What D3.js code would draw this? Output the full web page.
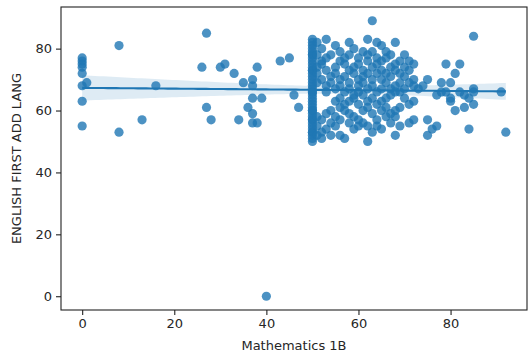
<!DOCTYPE html>
<html>
<head>
<meta charset="utf-8">
<script src="https://cdn.jsdelivr.net/npm/d3@7"></script>
<style>
  body { margin: 0; background: #fff; }
  svg { display: block; font-family: "DejaVu Sans", sans-serif; }
</style>
</head>
<body>
<div id="chart"></div>
<script>
// [math, english] pairs for the sparse low-score students
const lowMath = [
  [0, 77], [0, 76], [0, 75], [0, 74], [0, 72], [0, 68], [0, 63], [0, 55], [1, 69],
  [8, 81], [8, 53], [13, 57], [16, 68], [26, 74], [27, 85], [27, 61], [28, 57],
  [30, 74], [31, 75], [33, 72], [34, 57], [35, 69], [36, 61], [37, 70], [37, 68],
  [37, 64], [37, 59], [37, 56], [38, 56], [38, 74], [39, 64], [40, 0], [43, 76],
  [45, 77], [46, 65], [47, 61]
];

// english scores of the many students with exactly 50 in maths
const math50English = [
  83, 82, 81, 80, 79, 78, 77, 76, 75, 74, 73, 72, 71, 70, 69, 68, 67, 66, 65, 64,
  63, 62, 61, 60, 59, 58, 57, 56, 55, 54, 53, 52, 51, 50, 78, 73, 66, 60, 57, 53
];

// [math, english scores] for the dense middle block
const midColumns = [
  [51, [82, 78, 74, 72, 69, 58, 55, 52]],
  [52, [80, 76, 75, 70, 57, 53, 51]],
  [53, [83, 77, 73, 68, 66, 59, 54]],
  [54, [78, 71, 69, 60, 56, 52]],
  [55, [81, 74, 72, 67, 63, 58, 55]],
  [56, [79, 76, 70, 68, 64, 61, 57, 52]],
  [57, [77, 75, 71, 66, 62, 60, 51]],
  [58, [82, 78, 73, 69, 67, 63, 59, 56]],
  [59, [80, 74, 72, 65, 64, 58, 54]],
  [60, [77, 75, 70, 68, 66, 62, 57, 55]],
  [61, [79, 73, 71, 69, 65, 60, 56]],
  [62, [83, 78, 76, 72, 67, 63, 61, 55, 50]],
  [63, [89, 79, 74, 70, 68, 64, 59, 53]],
  [64, [82, 77, 75, 72, 66, 62, 57, 55]],
  [65, [81, 76, 73, 70, 67, 63, 60, 54]],
  [66, [79, 77, 72, 69, 64, 61, 58]],
  [67, [78, 74, 71, 67, 65, 59, 56]],
  [68, [82, 75, 73, 68, 66, 60, 58, 52]],
  [69, [76, 72, 69, 66, 61, 55]],
  [70, [78, 74, 71, 67, 64]],
  [71, [76, 73, 69, 62, 56]],
  [72, [75, 70, 68, 63, 57]]
];

// [math, english] pairs for the upper tail
const highMath = [
  [73, 67], [74, 68], [75, 70], [75, 57], [75, 52], [76, 54], [77, 55], [77, 65],
  [78, 69], [78, 66], [79, 75], [79, 66], [80, 64], [80, 63], [80, 69], [81, 72],
  [81, 60], [82, 75], [82, 66], [83, 65], [83, 61], [84, 64], [84, 54], [85, 84],
  [85, 67], [85, 62], [85, 66], [91, 66], [92, 53]
];

const xTicks = [0, 20, 40, 60, 80];
const yTicks = [0, 20, 40, 60, 80];
const xLabel = 'Mathematics 1B';
const yLabel = 'ENGLISH FIRST ADD LANG';

const points = [
  ...lowMath,
  ...math50English.map(e => [50, e]),
  ...midColumns.flatMap(([m, es]) => es.map(e => [m, e])),
  ...highMath
].map(([x, y]) => ({x, y}));

const width = 528, height = 358;
const margin = {top: 7, right: 1, bottom: 48, left: 61};
const color = '#1f77b4';

const svg = d3.select('#chart').append('svg')
  .attr('width', width)
  .attr('height', height);

// matplotlib style 5% margins around the data
const pad = ([a, b]) => [a - (b - a) * 0.05, b + (b - a) * 0.05];
const x = d3.scaleLinear()
  .domain(pad(d3.extent(points, d => d.x)))
  .range([margin.left, width - margin.right]);
const y = d3.scaleLinear()
  .domain(pad(d3.extent(points, d => d.y)))
  .range([height - margin.bottom, margin.top]);

// ordinary least squares fit + 95% confidence band
const n = points.length;
const mx = d3.mean(points, d => d.x), my = d3.mean(points, d => d.y);
const sxx = d3.sum(points, d => (d.x - mx) ** 2);
const sxy = d3.sum(points, d => (d.x - mx) * (d.y - my));
const slope = sxy / sxx, intercept = my - slope * mx;
const s = Math.sqrt(d3.sum(points, d => (d.y - intercept - slope * d.x) ** 2) / (n - 2));
const [x0, x1] = d3.extent(points, d => d.x);
const grid = d3.range(100).map(i => x0 + (x1 - x0) * i / 99);
const fit = grid.map(g => {
  const yh = intercept + slope * g;
  const se = s * Math.sqrt(1 / n + (g - mx) ** 2 / sxx);
  return {x: g, y: yh, lo: yh - 1.97 * se, hi: yh + 1.97 * se};
});

const plot = svg.append('g');

plot.selectAll('circle')
  .data(points)
  .join('circle')
  .attr('cx', d => x(d.x))
  .attr('cy', d => y(d.y))
  .attr('r', 4.6)
  .attr('fill', color)
  .attr('fill-opacity', 0.8);

plot.append('path')
  .datum(fit)
  .attr('fill', color)
  .attr('fill-opacity', 0.15)
  .attr('d', d3.area().x(d => x(d.x)).y0(d => y(d.lo)).y1(d => y(d.hi)));

plot.append('path')
  .datum(fit)
  .attr('fill', 'none')
  .attr('stroke', color)
  .attr('stroke-width', 2.1)
  .attr('d', d3.line().x(d => x(d.x)).y(d => y(d.y)));

// axes
const xAxis = svg.append('g')
  .attr('transform', `translate(0,${height - margin.bottom})`)
  .call(d3.axisBottom(x).tickValues(xTicks).tickSize(5).tickPadding(4).tickSizeOuter(0));
const yAxis = svg.append('g')
  .attr('transform', `translate(${margin.left},0)`)
  .call(d3.axisLeft(y).tickValues(yTicks).tickSize(5).tickPadding(4).tickSizeOuter(0));

[xAxis, yAxis].forEach(a => {
  a.select('.domain').remove();
  a.selectAll('line').attr('stroke', '#222').attr('stroke-width', 1.1);
  a.selectAll('text')
    .attr('fill', '#262626')
    .style('font-family', '"DejaVu Sans", sans-serif')
    .style('font-size', '13px');
});

// frame
svg.append('rect')
  .attr('x', margin.left)
  .attr('y', margin.top)
  .attr('width', width - margin.left - margin.right)
  .attr('height', height - margin.top - margin.bottom)
  .attr('fill', 'none')
  .attr('stroke', '#222')
  .attr('stroke-width', 1.1);

svg.append('text')
  .attr('x', (margin.left + width - margin.right) / 2)
  .attr('y', height - 8)
  .attr('text-anchor', 'middle')
  .attr('fill', '#262626')
  .style('font-size', '13px')
  .text(xLabel);

svg.append('text')
  .attr('transform', `translate(21,${(margin.top + height - margin.bottom) / 2}) rotate(-90)`)
  .attr('text-anchor', 'middle')
  .attr('fill', '#262626')
  .style('font-size', '13px')
  .text(yLabel);
</script>
</body>
</html>
